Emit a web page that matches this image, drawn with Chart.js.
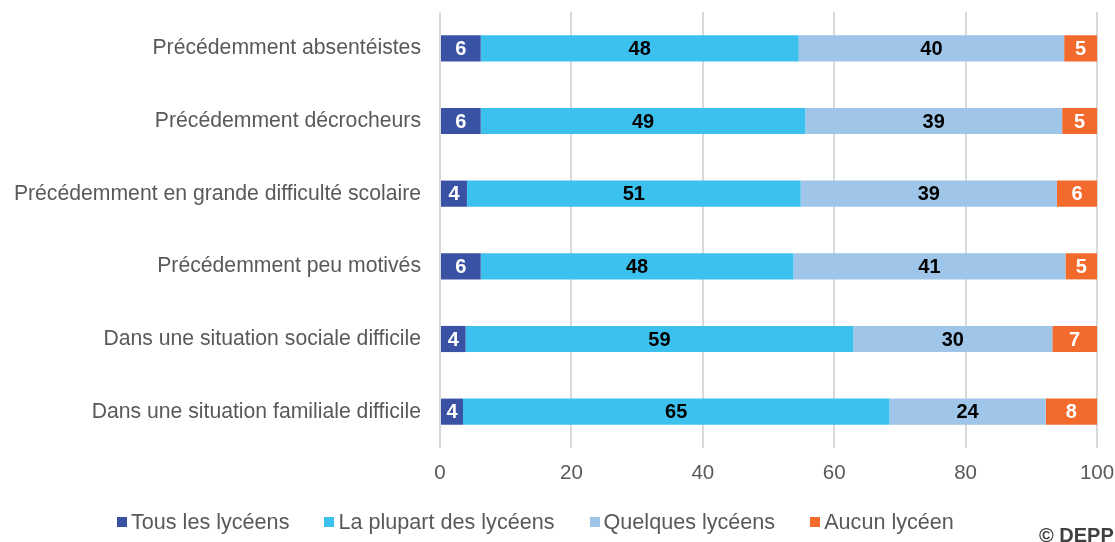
<!DOCTYPE html>
<html lang="fr">
<head>
<meta charset="utf-8">
<script src="https://cdn.jsdelivr.net/npm/chart.js@4/dist/chart.umd.min.js"></script>
<style>
  html,body{margin:0;padding:0;background:#fff;overflow:hidden;}
  #wrap{position:relative;width:1115px;height:542px;overflow:hidden;}
  #legend{position:absolute;left:117px;top:509px;display:flex;gap:35px;font:21.6px "Liberation Sans",Arial,sans-serif;color:#595959;white-space:nowrap;}
  #legend span.it{display:flex;align-items:center;}
  #legend i{display:inline-block;width:10px;height:10px;margin-right:4px;}
  #credit{position:absolute;left:1039px;top:524px;font:bold 20px "Liberation Sans",Arial,sans-serif;color:#404040;white-space:nowrap;}
</style>
</head>
<body>
<div id="wrap">
  <canvas id="chart" width="1115" height="542"></canvas>
  <div id="legend"></div>
  <div id="credit">© DEPP</div>
</div>
<script>
const categories = [
  'Précédemment absentéistes',
  'Précédemment décrocheurs',
  'Précédemment en grande difficulté scolaire',
  'Précédemment peu motivés',
  'Dans une situation sociale difficile',
  'Dans une situation familiale difficile'
];
const seriesNames = ['Tous les lycéens','La plupart des lycéens','Quelques lycéens','Aucun lycéen'];
const tous     = [6.2, 6.2, 4.1, 6.2, 3.9, 3.5];
const plupart  = [48.4, 49.4, 50.8, 47.6, 59.0, 64.9];
const quelques = [40.4, 39.1, 39.0, 41.4, 30.3, 23.8];
const aucun    = [5.0, 5.3, 6.1, 4.8, 6.8, 7.8];
const xTicks = [0, 20, 40, 60, 80, 100];

const colors = ['#3a52a3','#3cc1ee','#9fc6e9','#f26b2d'];
const labelColors = ['#ffffff','#000000','#000000','#ffffff'];
const FONT = '"Liberation Sans", Arial, sans-serif';

// value labels inside each segment
const segLabels = {
  id:'segLabels',
  afterDatasetsDraw(chart){
    const ctx = chart.ctx;
    ctx.save();
    ctx.font = 'bold 20px ' + FONT;
    ctx.textAlign = 'center';
    ctx.textBaseline = 'middle';
    chart.data.datasets.forEach((ds,i)=>{
      const meta = chart.getDatasetMeta(i);
      meta.data.forEach((bar,j)=>{
        ctx.fillStyle = labelColors[i];
        ctx.fillText(Math.round(ds.data[j]), (bar.x + bar.base)/2, bar.y + 1);
      });
    });
    ctx.restore();
  }
};

const data = [tous, plupart, quelques, aucun];
const chart = new Chart(document.getElementById('chart').getContext('2d'), {
  type:'bar',
  data:{
    labels:categories,
    datasets:data.map((d,i)=>({
      label:seriesNames[i], data:d, backgroundColor:colors[i],
      borderWidth:0, categoryPercentage:0.72, barPercentage:0.5
    }))
  },
  options:{
    indexAxis:'y',
    responsive:false,
    animation:false,
    layout:{padding:{top:12,right:18,bottom:58,left:0}},
    plugins:{legend:{display:false},tooltip:{enabled:false}},
    scales:{
      x:{
        stacked:true, min:0, max:100,
        afterBuildTicks(s){ s.ticks = xTicks.map(v=>({value:v})); },
        afterFit(s){ s.height = 36; s.paddingLeft = 0; s.paddingRight = 0; },
        grid:{color:'#d9d9d9', lineWidth:2, drawTicks:false},
        border:{display:false},
        ticks:{color:'#595959', font:{family:FONT, size:20.5}, padding:13}
      },
      y:{
        stacked:true,
        afterFit(s){ s.width = 440; s.paddingTop = 0; s.paddingBottom = 0; },
        grid:{display:false, drawTicks:false},
        border:{display:false},
        ticks:{color:'#595959', font:{family:FONT, size:21.2}, padding:19}
      }
    }
  },
  plugins:[segLabels]
});

// legend built from the chart datasets
const lg = document.getElementById('legend');
chart.data.datasets.forEach(ds=>{
  const s = document.createElement('span'); s.className='it';
  const b = document.createElement('i'); b.style.background = ds.backgroundColor;
  s.appendChild(b); s.appendChild(document.createTextNode(ds.label));
  lg.appendChild(s);
});
</script>
</body>
</html>
